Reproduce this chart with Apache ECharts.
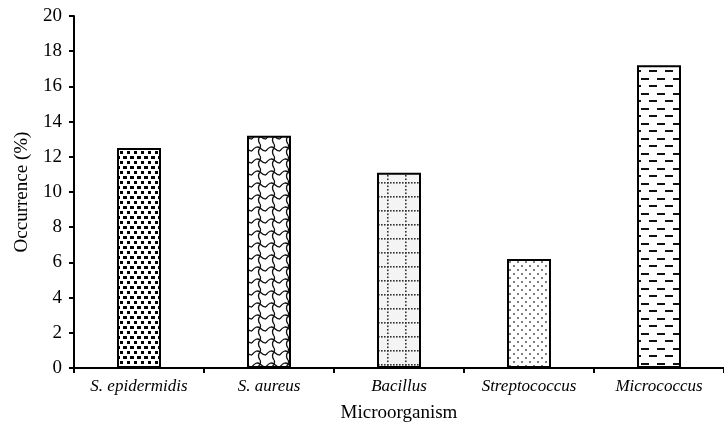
<!DOCTYPE html>
<html><head><meta charset="utf-8">
<script src="https://cdn.jsdelivr.net/npm/echarts@6/dist/echarts.min.js"></script>
<style>html,body{margin:0;padding:0;background:#fff}#c{width:724px;height:431px}</style>
</head><body><div id="c"></div>
<script>
const categories = ['S. epidermidis', 'S. aureus', 'Bacillus', 'Streptococcus', 'Micrococcus'];
const occurrence = [12.5, 13.2, 11.1, 6.2, 17.2];
const yTicks = [0, 2, 4, 6, 8, 10, 12, 14, 16, 18, 20];

function tile(w, h, draw) {
  const c = document.createElement('canvas');
  c.width = w; c.height = h;
  const g = c.getContext('2d');
  g.fillStyle = '#fff'; g.fillRect(0, 0, w, h);
  draw(g);
  return c;
}
const patterns = [
  tile(7, 10, g => { g.fillStyle = '#000'; g.fillRect(1, 1, 3, 3); g.fillRect(4, 6, 3, 3); g.fillRect(0, 6, 1, 3); }),
  tile(14, 12, g => {
    g.strokeStyle = '#111'; g.lineWidth = 1.3;
    g.beginPath();
    g.moveTo(0, 7); g.quadraticCurveTo(4, 1, 8, 4); g.quadraticCurveTo(11, 7, 14, 7);
    g.moveTo(8, 4); g.quadraticCurveTo(5, 8, 8, 12);
    g.moveTo(8, 0); g.quadraticCurveTo(9, 2, 8, 4);
    g.stroke();
  }),
  tile(18, 14, g => {
    g.fillStyle = '#f4f4f4'; g.fillRect(0, 0, 18, 14);
    g.fillStyle = '#333';
    for (let i = 0; i < 18; i += 3) g.fillRect(i, 0, 1.6, 1.6);
    for (let i = 0; i < 14; i += 3.5) g.fillRect(9, i, 1.6, 1.6);
  }),
  tile(8, 8, g => {
    g.fillStyle = '#555';
    g.beginPath(); g.arc(2, 2, 1, 0, 7); g.fill();
    g.beginPath(); g.arc(6, 6, 1, 0, 7); g.fill();
  }),
  tile(16, 15, g => {
    g.fillStyle = '#111';
    g.fillRect(1, 3, 8, 2); g.fillRect(9, 10, 7, 2); g.fillRect(0, 10, 1, 2);
  })
];

const chart = echarts.init(document.getElementById('c'), null, { renderer: 'canvas' });
const font = '"Liberation Serif", "Times New Roman", serif';
chart.setOption({
  animation: false,
  grid: { left: 74, right: 0, top: 16, bottom: 63 },
  xAxis: {
    type: 'category', data: categories,
    name: 'Microorganism', nameLocation: 'middle', nameGap: 36,
    nameTextStyle: { fontFamily: font, fontSize: 19, color: '#000' },
    axisLine: { lineStyle: { color: '#000', width: 2 } },
    axisTick: { show: true, length: 5, lineStyle: { color: '#000', width: 2 } },
    axisLabel: { fontFamily: font, fontSize: 17, fontStyle: 'italic', color: '#000', margin: 10 }
  },
  yAxis: {
    type: 'value', min: 0, max: 20, interval: 2,
    name: 'Occurrence (%)', nameLocation: 'middle', nameGap: 42,
    nameTextStyle: { fontFamily: font, fontSize: 19, color: '#000' },
    axisLine: { show: true, lineStyle: { color: '#000', width: 2 } },
    axisTick: { show: true, length: 5, lineStyle: { color: '#000', width: 2 } },
    splitLine: { show: false },
    axisLabel: { fontFamily: font, fontSize: 19, color: '#000', margin: 12,
      formatter: v => yTicks.includes(v) ? String(v) : '' }
  },
  series: [{
    type: 'bar', barWidth: 44,
    data: occurrence.map((v, i) => ({
      value: v,
      itemStyle: { color: { image: patterns[i], repeat: 'repeat' }, borderColor: '#000', borderWidth: 2 }
    }))
  }]
});
</script></body></html>
